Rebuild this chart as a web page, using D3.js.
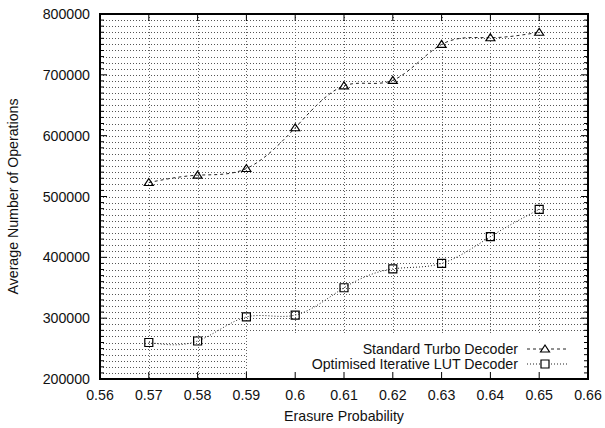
<!DOCTYPE html>
<html>
<head>
<meta charset="utf-8">
<script src="https://cdn.jsdelivr.net/npm/d3@7"></script>
<style>
  body { margin: 0; background: #fff; }
  svg { display: block; font-family: "Liberation Sans", Arial, sans-serif; }
</style>
</head>
<body>
<div class="chart__container"></div>
<script>
/*---------------------------Data---------------------------*/

const probabilities = [0.57, 0.58, 0.59, 0.60, 0.61, 0.62, 0.63, 0.64, 0.65];
const turboOps = [523000, 535000, 546000, 613000, 682000, 691000, 750000, 761000, 770000];
const lutOps = [260000, 262500, 302000, 305000, 350000, 381000, 390000, 434000, 479000];
const seriesNames = ["Standard Turbo Decoder", "Optimised Iterative LUT Decoder"];
const xTicks = [0.56, 0.57, 0.58, 0.59, 0.6, 0.61, 0.62, 0.63, 0.64, 0.65, 0.66];
const yTicks = [200000, 300000, 400000, 500000, 600000, 700000, 800000];

/*---------------------------Init---------------------------*/

const CHART__WIDTH = 605;
const CHART__HEIGHT = 428;
const MARGIN = { top: 14, right: 17, bottom: 49, left: 100 };
const FONT = 14.2;

const svg = d3.select(".chart__container").append("svg")
    .attr("width", CHART__WIDTH)
    .attr("height", CHART__HEIGHT);

const x = d3.scaleLinear().domain([0.56, 0.66]).range([MARGIN.left, CHART__WIDTH - MARGIN.right]);
const y = d3.scaleLinear().domain([200000, 800000]).range([CHART__HEIGHT - MARGIN.bottom, MARGIN.top]);

const minorY = d3.range(200000, 800001, 10000);

//grid

const grid = svg.append("g");
grid.selectAll(".hgrid")
    .data(minorY.filter(v => v > 200000 && v < 800000))
    .enter().append("line")
    .attr("x1", x(0.56)).attr("x2", x(0.66))
    .attr("y1", d => Math.round(y(d)) + 0.5).attr("y2", d => Math.round(y(d)) + 0.5)
    .attr("stroke", "#555").attr("stroke-width", 1).attr("stroke-dasharray", "1,2");
grid.selectAll(".vgrid")
    .data(xTicks.slice(1, -1))
    .enter().append("line")
    .attr("x1", d => Math.round(x(d)) + 0.5).attr("x2", d => Math.round(x(d)) + 0.5)
    .attr("y1", y(800000)).attr("y2", y(200000))
    .attr("stroke", "#666").attr("stroke-width", 1).attr("stroke-dasharray", "1,2");

//legend background

svg.append("rect")
    .attr("x", 247).attr("y", 334)
    .attr("width", x(0.66) - 247).attr("height", y(200000) - 334)
    .attr("fill", "#fff");

//axes

const tickLen = 7, minorLen = 4;
const axisLayer = svg.append("g").attr("stroke", "#000");

xTicks.slice(1, -1).forEach(v => {
    axisLayer.append("line").attr("x1", x(v)).attr("x2", x(v))
        .attr("y1", y(200000)).attr("y2", y(200000) - tickLen);
    axisLayer.append("line").attr("x1", x(v)).attr("x2", x(v))
        .attr("y1", y(800000)).attr("y2", y(800000) + tickLen);
});
minorY.forEach(v => {
    const len = v % 100000 === 0 ? tickLen : minorLen;
    axisLayer.append("line").attr("x1", x(0.56)).attr("x2", x(0.56) + len)
        .attr("y1", y(v)).attr("y2", y(v));
    axisLayer.append("line").attr("x1", x(0.66)).attr("x2", x(0.66) - len)
        .attr("y1", y(v)).attr("y2", y(v));
});

svg.append("rect")
    .attr("x", x(0.56)).attr("y", y(800000))
    .attr("width", x(0.66) - x(0.56)).attr("height", y(200000) - y(800000))
    .attr("fill", "none").attr("stroke", "#000").attr("stroke-width", 2);

svg.append("g").selectAll("text")
    .data(xTicks).enter().append("text")
    .attr("x", d => x(d)).attr("y", y(200000) + 21)
    .attr("text-anchor", "middle").attr("font-size", FONT).attr("fill", "#111")
    .text(d => d3.format("~g")(d));

svg.append("g").selectAll("text")
    .data(yTicks).enter().append("text")
    .attr("x", x(0.56) - 10).attr("y", d => y(d) + 5)
    .attr("text-anchor", "end").attr("font-size", FONT).attr("fill", "#111")
    .text(d => d);

svg.append("text")
    .attr("x", (x(0.56) + x(0.66)) / 2).attr("y", 421)
    .attr("text-anchor", "middle").attr("font-size", FONT).attr("fill", "#111")
    .text("Erasure Probability");

svg.append("text")
    .attr("transform", `translate(18,${(y(200000) + y(800000)) / 2}) rotate(-90)`)
    .attr("text-anchor", "middle").attr("font-size", FONT).attr("fill", "#111")
    .text("Average Number of Operations");

//series

const series = [
    { name: seriesNames[0], values: turboOps, dash: "3,3", marker: "triangle" },
    { name: seriesNames[1], values: lutOps, dash: "1,2", marker: "square" }
];

const line = d3.line()
    .x((d, i) => x(probabilities[i]))
    .y(d => y(d))
    .curve(d3.curveNatural);

const markerPath = (type) => type === "triangle"
    ? "M0,-4L4.5,3L-4.5,3Z"
    : "M-4,-4H4V4H-4Z";

series.forEach((s, k) => {
    const g = svg.append("g");
    g.append("path")
        .attr("d", line(s.values))
        .attr("fill", "none").attr("stroke", "#222").attr("stroke-width", 1)
        .attr("stroke-dasharray", s.dash);
    g.selectAll(".pt").data(s.values).enter().append("path")
        .attr("transform", (d, i) => `translate(${x(probabilities[i])},${y(d)})`)
        .attr("d", markerPath(s.marker))
        .attr("fill", "none").attr("stroke", "#000").attr("stroke-width", 1.2);

    //legend entry
    const ly = 349 + k * 15;
    svg.append("text")
        .attr("x", 518).attr("y", ly + 5)
        .attr("text-anchor", "end").attr("font-size", FONT).attr("fill", "#111")
        .text(s.name);
    svg.append("line")
        .attr("x1", 527).attr("x2", 569).attr("y1", ly).attr("y2", ly)
        .attr("stroke", "#222").attr("stroke-dasharray", s.dash);
    svg.append("path")
        .attr("transform", `translate(545,${ly})`)
        .attr("d", markerPath(s.marker))
        .attr("fill", "#fff").attr("stroke", "#000").attr("stroke-width", 1.2);
});
</script>
</body>
</html>
